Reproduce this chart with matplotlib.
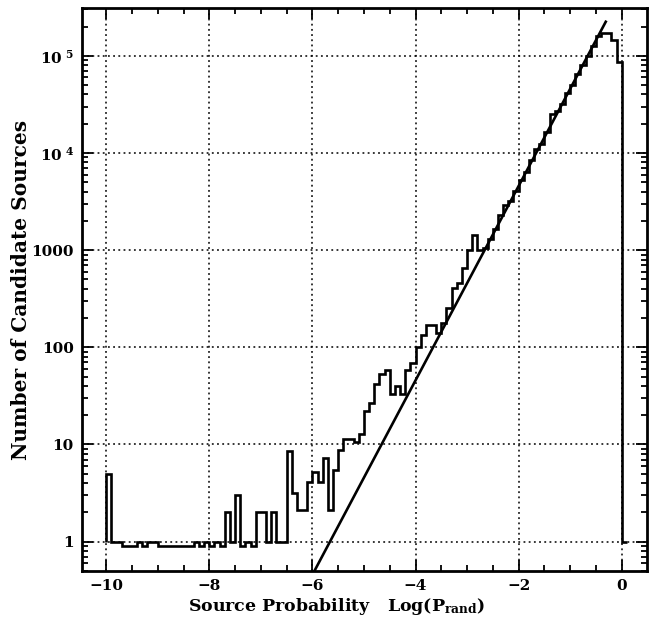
import numpy as np
import matplotlib
matplotlib.use('Agg')
import matplotlib.pyplot as plt
from matplotlib.ticker import MultipleLocator, FixedLocator, LogLocator, NullFormatter

# histogram of log10(P_rand), 0.1-wide bins starting at -10
BIN_START = -10.0
BIN_WIDTH = 0.1
COUNTS = [
    5, 1, 1, 0.9, 0.9, 0.9, 1, 0.9, 1, 1,                      # -10.0 .. -9.1
    0.9, 0.9, 0.9, 0.9, 0.9, 0.9, 0.9, 1, 0.9, 1,              # -9.0 .. -8.1
    0.9, 1, 0.9, 2, 1, 3, 0.9, 1, 0.9, 2,                      # -8.0 .. -7.1
    2, 1, 2, 1, 1, 8.5, 3.2, 2.1, 2.1, 4.1,                    # -7.0 .. -6.1
    5.2, 4.1, 7.2, 2.1, 5.4, 8.7, 11.4, 11.4, 10.5, 12.8,      # -6.0 .. -5.1
    22, 27, 42, 53, 58, 33, 40, 33, 59, 69,                    # -5.0 .. -4.1
    100, 133, 171, 171, 140, 178, 253, 405, 455, 650,          # -4.0 .. -3.1
    1000, 1420, 1000, 1050, 1300, 1660, 2300, 2900, 3200, 4100,  # -3.0 .. -2.1
    5300, 6300, 8400, 11000, 12500, 16500, 25000, 27000, 32000, 41000,  # -2.0 .. -1.1
    50000, 65000, 80000, 100000, 125000, 160000, 172000, 172000, 145000, 87000,  # -1.0 .. -0.1
    1,                                                           # 0.0
]

# straight-line model drawn over the histogram: log N = slope * log P + offset
FIT_SLOPE  = 1.0
FIT_OFFSET = 5.66
FIT_RANGE  = (-6.3, -0.31)

X_TICKS = [-10, -8, -6, -4, -2, 0]
Y_TICKS = [1, 10, 100, 1000, 1e4, 1e5]
Y_TICK_LABELS = ['1', '10', '100', '1000', '10$^{\\ 4}$', '10$^{\\ 5}$']

plt.rcParams['font.family'] = 'DejaVu Serif'
plt.rcParams['font.weight'] = 'bold'
plt.rcParams['mathtext.fontset'] = 'dejavuserif'
plt.rcParams['mathtext.default'] = 'bf'


def main():
    counts = np.array(COUNTS, dtype=float)
    edges = BIN_START + BIN_WIDTH * np.arange(len(counts) + 1)

    fig = plt.figure(figsize=(6.53, 6.26), dpi=100)
    ax = fig.add_axes([0.1256, 0.088, 0.8652, 0.8992])

    ax.stairs(counts, edges, baseline=1, color='black', lw=1.9, zorder=3)

    lx = np.array(FIT_RANGE)
    ly = 10 ** (FIT_SLOPE * lx + FIT_OFFSET)
    ax.plot(lx, ly, color='black', lw=1.9, zorder=3)

    ax.set_yscale('log')
    ax.set_xlim(-10.47, 0.49)
    ax.set_ylim(0.5, 3.1e5)

    ax.xaxis.set_major_locator(FixedLocator(X_TICKS))
    ax.xaxis.set_minor_locator(MultipleLocator(0.5))
    ax.yaxis.set_major_locator(FixedLocator(Y_TICKS))
    ax.set_yticklabels(Y_TICK_LABELS)
    ax.yaxis.set_minor_locator(LogLocator(base=10, subs=np.arange(2, 10), numticks=20))
    ax.yaxis.set_minor_formatter(NullFormatter())

    ax.tick_params(which='both', direction='in', top=True, right=True,
                   width=1.3, labelsize=11, pad=6)
    ax.tick_params(which='major', length=8)
    ax.tick_params(which='minor', length=4)

    ax.grid(True, which='major', color='black', linestyle=(0, (1.2, 2.2)), lw=1.1)
    for spine in ax.spines.values():
        spine.set_linewidth(2.0)

    ax.set_xlabel('Source Probability   Log(P$_{rand}$)', fontsize=12.5,
                  fontweight='bold')
    ax.xaxis.set_label_coords(0.45, -0.045)
    ax.set_ylabel('Number of Candidate Sources', fontsize=14.5,
                  fontweight='bold', labelpad=0)

    fig.savefig('out.png', dpi=100, facecolor='white')


if __name__ == '__main__':
    main()
